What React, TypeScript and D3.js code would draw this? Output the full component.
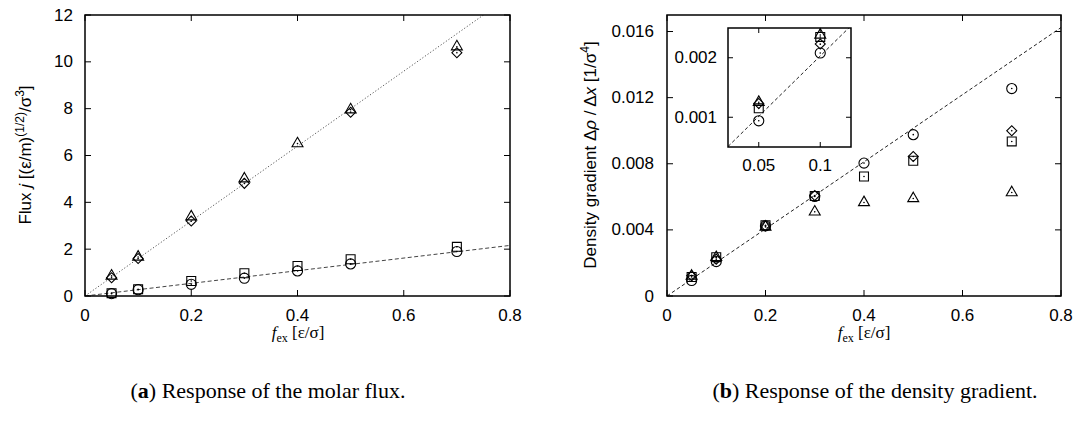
import React from "react";
import * as d3 from "d3";

const fex = [0.05, 0.1, 0.2, 0.3, 0.4, 0.5, 0.7];

// (a) molar flux
const fluxTriangle = [0.9, 1.71, 3.43, 5.05, 6.55, 8.0, 10.69];
const fluxDiamond = [0.78, 1.6, 3.2, 4.81, null, 7.85, 10.39];
const fluxSquare = [0.12, 0.29, 0.64, 0.97, 1.28, 1.57, 2.1];
const fluxCircle = [0.1, 0.27, 0.5, 0.76, 1.07, 1.37, 1.9];
const fluxFitSlopes = [16.0, 2.7];

// (b) density gradient
const gradCircle = [0.00094, 0.00208, 0.00424, 0.00602, 0.00804, 0.00976, 0.01255];
const gradDiamond = [0.00123, 0.00223, 0.00424, 0.00608, null, 0.00844, 0.0100];
const gradSquare = [0.00115, 0.00235, 0.00428, 0.00605, 0.00723, 0.00818, 0.00935];
const gradTriangle = [0.00127, 0.0024, 0.00424, 0.00515, 0.00572, 0.00596, 0.00632];
const gradFitSlope = 0.0203;

const xTicks = [0, 0.2, 0.4, 0.6, 0.8];
const fluxTicks = [0, 2, 4, 6, 8, 10, 12];
const gradTicks = [0, 0.004, 0.008, 0.012, 0.016];
const insetXTicks = [0.05, 0.1];
const insetYTicks = [0.001, 0.002];

const SANS = "'Liberation Sans', Arial, Helvetica, sans-serif";
const SERIF = "'Liberation Serif', 'DejaVu Serif', serif";

type Shape = "triangle" | "diamond" | "square" | "circle";

function markerPath(shape: Shape): string {
  const g = d3.symbol();
  if (shape === "triangle") return g.type(d3.symbolTriangle).size(52)()!;
  if (shape === "diamond") return g.type(d3.symbolSquare).size(50)()!;
  if (shape === "square") return g.type(d3.symbolSquare).size(80)()!;
  return g.type(d3.symbolCircle).size(80)()!;
}

function Markers({ xs, ys, shape, x, y }: { xs: number[]; ys: (number | null)[]; shape: Shape; x: any; y: any }) {
  const p = markerPath(shape);
  return (
    <g>
      {xs.map((f, i) => {
        const v = ys[i];
        if (v == null) return null;
        const cx = x(f);
        const cy = y(v) + (shape === "triangle" ? 1 : 0);
        return (
          <g key={i} transform={`translate(${cx},${cy})${shape === "diamond" ? " rotate(45)" : ""}`}>
            <path d={p} fill="none" stroke="#000" strokeWidth={1.1} />
            <circle r={0.8} fill="#000" />
          </g>
        );
      })}
    </g>
  );
}

function Frame({ x, y, xt, yt, tick = 6 }: { x: any; y: any; xt: number[]; yt: number[]; tick?: number }) {
  const [x0, x1] = x.range();
  const [y0, y1] = y.range();
  return (
    <g stroke="#000">
      {xt.map((t, i) => (
        <g key={"x" + i}>
          <line x1={x(t)} x2={x(t)} y1={y0} y2={y0 - tick} strokeWidth={1} />
          <line x1={x(t)} x2={x(t)} y1={y1} y2={y1 + tick} strokeWidth={1} />
        </g>
      ))}
      {yt.map((t, i) => (
        <g key={"y" + i}>
          <line x1={x0} x2={x0 + tick} y1={y(t)} y2={y(t)} strokeWidth={1} />
          <line x1={x1} x2={x1 - tick} y1={y(t)} y2={y(t)} strokeWidth={1} />
        </g>
      ))}
      <rect x={x0} y={y1} width={x1 - x0} height={y0 - y1} fill="none" strokeWidth={1.5} />
    </g>
  );
}

function FitLine({ x, y, slope, dash, color, id }: { x: any; y: any; slope: number; dash: string; color: string; id: string }) {
  const [x0, x1] = x.domain();
  const line = d3.line<number>().x((f) => x(f)).y((f) => y(slope * f));
  const [rx0, rx1] = x.range();
  const [ry0, ry1] = y.range();
  return (
    <g>
      <clipPath id={id}>
        <rect x={rx0} y={ry1} width={rx1 - rx0} height={ry0 - ry1} />
      </clipPath>
      <path d={line([x0, x1])!} clipPath={`url(#${id})`} fill="none" stroke={color} strokeWidth={1} strokeDasharray={dash} />
    </g>
  );
}

export default function App() {
  // left panel
  const xa = d3.scaleLinear().domain([0, 0.8]).range([85, 510]);
  const ya = d3.scaleLinear().domain([0, 12]).range([296, 15]);
  // right panel
  const xb = d3.scaleLinear().domain([0, 0.8]).range([667, 1061]);
  const yb = d3.scaleLinear().domain([0, 0.017]).range([296, 15]);
  // inset
  const xi = d3.scaleLinear().domain([0.025, 0.125]).range([728, 851]);
  const yi = d3.scaleLinear().domain([0.0005, 0.0025]).range([147, 28]);

  const fmtX = (t: number) => (t === 0 ? "0" : d3.format(".1f")(t));

  return (
    <svg width={1078} height={421} style={{ position: "absolute", left: 0, top: 0, background: "#fff" }}>
      <rect width={1078} height={421} fill="#fff" />

      {/* ---------- panel (a) ---------- */}
      <FitLine x={xa} y={ya} slope={fluxFitSlopes[0]} dash="1.2,2" color="#555" id="ca1" />
      <FitLine x={xa} y={ya} slope={fluxFitSlopes[1]} dash="4,2.5" color="#444" id="ca2" />
      <Markers xs={fex} ys={fluxSquare} shape="square" x={xa} y={ya} />
      <Markers xs={fex} ys={fluxCircle} shape="circle" x={xa} y={ya} />
      <Markers xs={fex} ys={fluxDiamond} shape="diamond" x={xa} y={ya} />
      <Markers xs={fex} ys={fluxTriangle} shape="triangle" x={xa} y={ya} />
      <Frame x={xa} y={ya} xt={xTicks} yt={fluxTicks} />
      <g fontFamily={SANS} fontSize={17} fill="#000">
        {fluxTicks.map((t) => (
          <text key={t} x={73} y={ya(t)} textAnchor="end" dominantBaseline="central">{t}</text>
        ))}
        {xTicks.map((t) => (
          <text key={t} x={xa(t)} y={315} textAnchor="middle" dominantBaseline="central">{fmtX(t)}</text>
        ))}
        <text transform="translate(31,155) rotate(-90)" textAnchor="middle">
          Flux <tspan fontStyle="italic">j</tspan> [(ε/m)
          <tspan dy={-7} fontSize={12}>(1/2)</tspan>
          <tspan dy={7}>/σ</tspan>
          <tspan dy={-7} fontSize={12}>3</tspan>
          <tspan dy={7}>]</tspan>
        </text>
      </g>
      <text x={298} y={338} textAnchor="middle" fontFamily={SERIF} fontSize={17}>
        <tspan fontStyle="italic">f</tspan>
        <tspan dy={4} fontSize={12}>ex</tspan>
        <tspan dy={-4}> [ε/σ]</tspan>
      </text>

      {/* ---------- panel (b) ---------- */}
      <FitLine x={xb} y={yb} slope={gradFitSlope} dash="3.5,2.5" color="#222" id="cb1" />
      <Markers xs={fex} ys={gradSquare} shape="square" x={xb} y={yb} />
      <Markers xs={fex} ys={gradDiamond} shape="diamond" x={xb} y={yb} />
      <Markers xs={fex} ys={gradTriangle} shape="triangle" x={xb} y={yb} />
      <Markers xs={fex} ys={gradCircle} shape="circle" x={xb} y={yb} />
      <Frame x={xb} y={yb} xt={xTicks} yt={gradTicks} />
      <g fontFamily={SANS} fontSize={17} fill="#000">
        {gradTicks.map((t) => (
          <text key={t} x={654} y={yb(t)} textAnchor="end" dominantBaseline="central">{t === 0 ? "0" : d3.format(".3f")(t)}</text>
        ))}
        {xTicks.map((t) => (
          <text key={t} x={xb(t)} y={315} textAnchor="middle" dominantBaseline="central">{fmtX(t)}</text>
        ))}
        <text transform="translate(596,155) rotate(-90)" textAnchor="middle">
          Density gradient Δ<tspan fontStyle="italic">ρ</tspan> / Δ<tspan fontStyle="italic">x</tspan> [1/σ
          <tspan dy={-7} fontSize={12}>4</tspan>
          <tspan dy={7}>]</tspan>
        </text>
      </g>
      <text x={864} y={338} textAnchor="middle" fontFamily={SERIF} fontSize={17}>
        <tspan fontStyle="italic">f</tspan>
        <tspan dy={4} fontSize={12}>ex</tspan>
        <tspan dy={-4}> [ε/σ]</tspan>
      </text>

      {/* ---------- inset ---------- */}
      <rect x={728} y={28} width={123} height={119} fill="#fff" />
      <FitLine x={xi} y={yi} slope={gradFitSlope} dash="3.5,2.5" color="#222" id="ci1" />
      <Markers xs={fex} ys={gradSquare} shape="square" x={xi} y={yi} />
      <Markers xs={fex} ys={gradDiamond} shape="diamond" x={xi} y={yi} />
      <Markers xs={fex} ys={gradTriangle} shape="triangle" x={xi} y={yi} />
      <Markers xs={fex} ys={gradCircle} shape="circle" x={xi} y={yi} />
      {/* mask markers outside inset */}
      <rect x={851.8} y={20} width={60} height={140} fill="none" />
      <Frame x={xi} y={yi} xt={insetXTicks} yt={insetYTicks} tick={5} />
      <g fontFamily={SANS} fontSize={17} fill="#000">
        {insetYTicks.map((t) => (
          <text key={t} x={717} y={yi(t)} textAnchor="end" dominantBaseline="central">{d3.format(".3f")(t)}</text>
        ))}
        {insetXTicks.map((t) => (
          <text key={t} x={xi(t)} y={165} textAnchor="middle" dominantBaseline="central">{t === 0.1 ? "0.1" : "0.05"}</text>
        ))}
      </g>

      {/* ---------- captions ---------- */}
      <g fontFamily={SERIF} fontSize={22} fill="#000">
        <text x={268} y={398} textAnchor="middle">
          (<tspan fontWeight="bold">a</tspan>) Response of the molar flux.
        </text>
        <text x={875} y={398} textAnchor="middle">
          (<tspan fontWeight="bold">b</tspan>) Response of the density gradient.
        </text>
      </g>
    </svg>
  );
}
